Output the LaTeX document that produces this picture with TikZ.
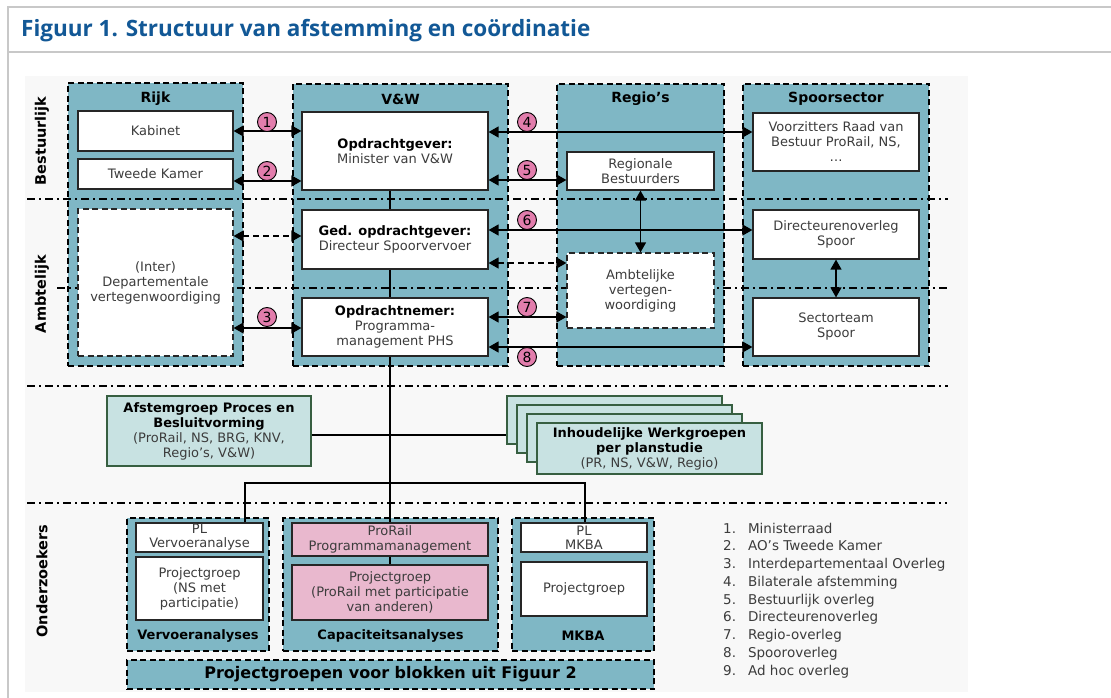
\documentclass[tikz,border=0pt]{standalone}
\usepackage{fontspec}
\setmainfont{DejaVu Sans}
\newfontfamily\titlefont{Open Sans}
\usetikzlibrary{arrows.meta}
\definecolor{tealc}{RGB}{127,183,197}
\definecolor{lteal}{RGB}{200,226,226}
\definecolor{dgreen}{RGB}{55,95,65}
\definecolor{pinkbox}{RGB}{233,184,206}
\definecolor{pinkc}{RGB}{226,125,172}
\definecolor{titleblue}{RGB}{18,88,150}
\definecolor{framegray}{RGB}{200,200,200}
\definecolor{bggray}{RGB}{248,248,248}
\definecolor{txt}{RGB}{60,60,60}
\begin{document}
\begin{tikzpicture}[x=1pt,y=-1pt,
  sz/.style 2 args={minimum width=#1pt,minimum height=#2pt},
  col/.style={draw=black, fill=tealc, line width=1.4pt, dash pattern=on 6pt off 3.5pt, inner sep=0pt},
  wbox/.style={draw=black!85, fill=white, line width=1.2pt, inner sep=0pt, align=center, text=txt, font=\fontsize{13}{15}\selectfont},
  dwbox/.style={wbox, dash pattern=on 6pt off 3.5pt},
  pbox/.style={wbox, fill=pinkbox},
  gbox/.style={draw=dgreen, fill=lteal, line width=1.4pt, inner sep=0pt, align=center, text=txt, font=\fontsize{13}{15}\selectfont},
  head/.style={font=\bfseries\fontsize{14}{16}\selectfont, text=black, inner sep=0pt},
  side/.style={font=\bfseries\fontsize{14.5}{16}\selectfont, text=black, rotate=90, inner sep=0pt},
  sepline/.style={line width=1.8pt, dash pattern=on 8pt off 4pt on 2pt off 4pt},
  conn/.style={line width=1.3pt},
  arr/.style={conn, {Triangle[length=10pt,width=11pt]}-{Triangle[length=10pt,width=11pt]}},
  darr/.style={arr, dash pattern=on 6pt off 4pt},
  num/.style={circle, draw=black, line width=0.9pt, fill=pinkc, minimum size=19pt, inner sep=0pt, font=\fontsize{14}{14}\selectfont}
]
\useasboundingbox (0,0) rectangle (1111,698);
\fill[white] (0,0) rectangle (1111,698);
\fill[bggray] (25,76) rectangle (968,692);
\draw[framegray, line width=1.5pt] (1111,7) -- (8,7) -- (8,698);
\draw[framegray, line width=1.5pt] (8,52) -- (1111,52);
\node[anchor=west, inner sep=0pt, text=titleblue, font=\titlefont\bfseries\fontsize{22.5}{26}\selectfont] (title) at (21,31) {Figuur 1. Structuur van afstemming en coördinatie};

% columns
\node[col, sz={175}{283}] (rijk) at (155.5,224.5) {};
\node[col, sz={215}{282}] (vw) at (400.5,225) {};
\node[col, sz={167}{282}] (reg) at (640.5,225) {};
\node[col, sz={186}{282}] (spo) at (836,225) {};
\node[head] (hrijk) at (155.5,99) {Rijk};
\node[head] (hvw) at (400.5,99) {V\&W};
\node[head] (hreg) at (640.5,99) {Regio’s};
\node[head] (hspo) at (836,99) {Spoorsector};

% side labels
\node[side] (lbest) at (42,141) {Bestuurlijk};
\node[side] (lamb) at (42,294) {Ambtelijk};
\node[side] (lond) at (42,581) {Onderzoekers};

% separators
\draw[sepline] (27,199) -- (948,199);
\draw[sepline] (57,288) -- (948,288);
\draw[sepline] (27,386) -- (948,386);
\draw[sepline] (27,503) -- (947,503);

% inner boxes
\node[wbox, sz={155}{40}] (kab) at (155.5,131) {Kabinet};
\node[wbox, sz={155}{30}] (tk) at (155.5,174) {Tweede Kamer};
\node[dwbox, sz={155}{147}] (dep) at (155.5,282.5) {(Inter)\\Departementale\\vertegenwoordiging};
\node[wbox, sz={186}{78}] (opg) at (395,151) {{\color{black}\bfseries Opdrachtgever:}\\Minister van V\&W};
\node[wbox, sz={186}{59}] (ged) at (395,239.5) {{\color{black}\bfseries Ged. opdrachtgever:}\\Directeur Spoorvervoer};
\node[wbox, sz={186}{58}] (opn) at (395,327) {{\color{black}\bfseries Opdrachtnemer:}\\Programma-\\management PHS};
\node[wbox, sz={166}{58}] (voor) at (836,142) {Voorzitters Raad van\\Bestuur ProRail, NS,\\…};
\node[wbox, sz={147}{38}] (rb) at (640.5,171) {Regionale\\Bestuurders};
\node[wbox, sz={166}{49}] (dir) at (836,234.5) {Directeurenoverleg\\Spoor};
\node[dwbox, sz={147}{75}] (amb) at (640.5,290.5) {Ambtelijke\\vertegen-\\woordiging};
\node[wbox, sz={166}{58}] (sec) at (836,327) {Sectorteam\\Spoor};

% trunk
\coordinate (trunk) at (390,0);
\draw[conn] (opg.south -| trunk) -- (ged.north -| trunk);
\draw[conn] (ged.south -| trunk) -- (opn.north -| trunk);

% arrows left
\draw[arr] (kab.east) -- (kab.east -| opg.west);
\draw[arr] (tk.east |- 0,181) -- (opg.west |- 0,181);
\draw[darr] (dep.east |- 0,236) -- (ged.west |- 0,236);
\draw[arr] (dep.east |- 0,328) -- (opn.west |- 0,328);
% arrows right
\draw[arr] (opg.east |- 0,132) -- (voor.west |- 0,132);
\draw[arr] (opg.east |- 0,180) -- (rb.west |- 0,180);
\draw[arr] (ged.east |- 0,230) -- (dir.west |- 0,230);
\draw[darr] (ged.east |- 0,263) -- (amb.west |- 0,263);
\draw[arr] (opn.east |- 0,317) -- (amb.west |- 0,317);
\draw[arr] (opn.east |- 0,347) -- (sec.west |- 0,347);
% vertical arrows
\draw[arr] (rb.south) -- (amb.north);
\draw[arr] (dir.south) -- (sec.north);

% numbers
\node[num] (n1) at (267,122) {1};
\node[num] (n2) at (267,171) {2};
\node[num] (n3) at (267,317) {3};
\node[num] (n4) at (527,122) {4};
\node[num] (n5) at (527,170) {5};
\node[num] (n6) at (527,220) {6};
\node[num] (n7) at (527,307) {7};
\node[num] (n8) at (527,357) {8};

% middle groups
\node[gbox, sz={215}{48}] (wk1) at (614.5,420) {};
\node[gbox, sz={215}{48}] (wk2) at (624.5,429) {};
\node[gbox, sz={215}{48}] (wk3) at (634.5,438) {};
\node[gbox, sz={225}{51}] (wk4) at (649.5,448.5) {{\color{black}\bfseries Inhoudelijke Werkgroepen}\\{\color{black}\bfseries per planstudie}\\(PR, NS, V\&W, Regio)};
\node[gbox, sz={204}{70}] (afst) at (209,431) {{\color{black}\bfseries Afstemgroep Proces en}\\{\color{black}\bfseries Besluitvorming}\\(ProRail, NS, BRG, KNV,\\Regio’s, V\&W)};
\draw[conn] (afst.east |- 0,435) -- (wk1.west |- 0,435);

% bottom columns
\node[col, sz={142}{133}] (vcol) at (198,584.5) {};
\node[col, sz={215}{133}] (ccol) at (390.5,584.5) {};
\node[col, sz={142}{133}] (mcol) at (583,584.5) {};
\node[col, sz={527}{29}, font=\bfseries\fontsize{16}{18}\selectfont] (pgbar) at (390.5,674.5) {Projectgroepen voor blokken uit Figuur 2};
\node[wbox, sz={127}{29}, font=\fontsize{13}{14}\selectfont] (plv) at (199.5,537.5) {PL\\Vervoeranalyse};
\node[wbox, sz={127}{63}] (pgv) at (199.5,588.5) {Projectgroep\\(NS met\\participatie)};
\node[pbox, sz={196}{33}, font=\fontsize{13}{15}\selectfont] (prp) at (390,539.5) {ProRail\\Programmamanagement};
\node[pbox, sz={196}{55}] (pgc) at (390,592.5) {Projectgroep\\(ProRail met participatie\\van anderen)};
\node[wbox, sz={126}{29}, font=\fontsize{13}{14}\selectfont] (plm) at (584,537.5) {PL\\MKBA};
\node[wbox, sz={126}{54}] (pgm) at (584,589) {Projectgroep};
\node[head, font=\bfseries\fontsize{13}{15}\selectfont] (lv) at (198,636) {Vervoeranalyses};
\node[head, font=\bfseries\fontsize{13}{15}\selectfont] (lc) at (390.5,636) {Capaciteitsanalyses};
\node[head, font=\bfseries\fontsize{13}{15}\selectfont] (lm) at (583,636) {MKBA};

% trunk lower
\draw[conn] (opn.south -| trunk) -- (prp.north -| trunk);
\draw[conn] (prp.south -| trunk) -- (pgc.north -| trunk);
\coordinate (barL) at (245,483);
\coordinate (barR) at (585,483);
\draw[conn] (plv.north -| barL) -- (barL) -- (barR) -- (plm.north -| barR);

% legend
\node[anchor=north west, inner sep=0pt, text=txt, font=\fontsize{13.5}{17.75}\selectfont] (legend) at (723,520.5) {%
\begin{tabular}{@{}r@{\hspace{12pt}}l@{}}
1. & Ministerraad\\
2. & AO’s Tweede Kamer\\
3. & Interdepartementaal Overleg\\
4. & Bilaterale afstemming\\
5. & Bestuurlijk overleg\\
6. & Directeurenoverleg\\
7. & Regio-overleg\\
8. & Spooroverleg\\
9. & Ad hoc overleg
\end{tabular}};
\end{tikzpicture}
\end{document}
